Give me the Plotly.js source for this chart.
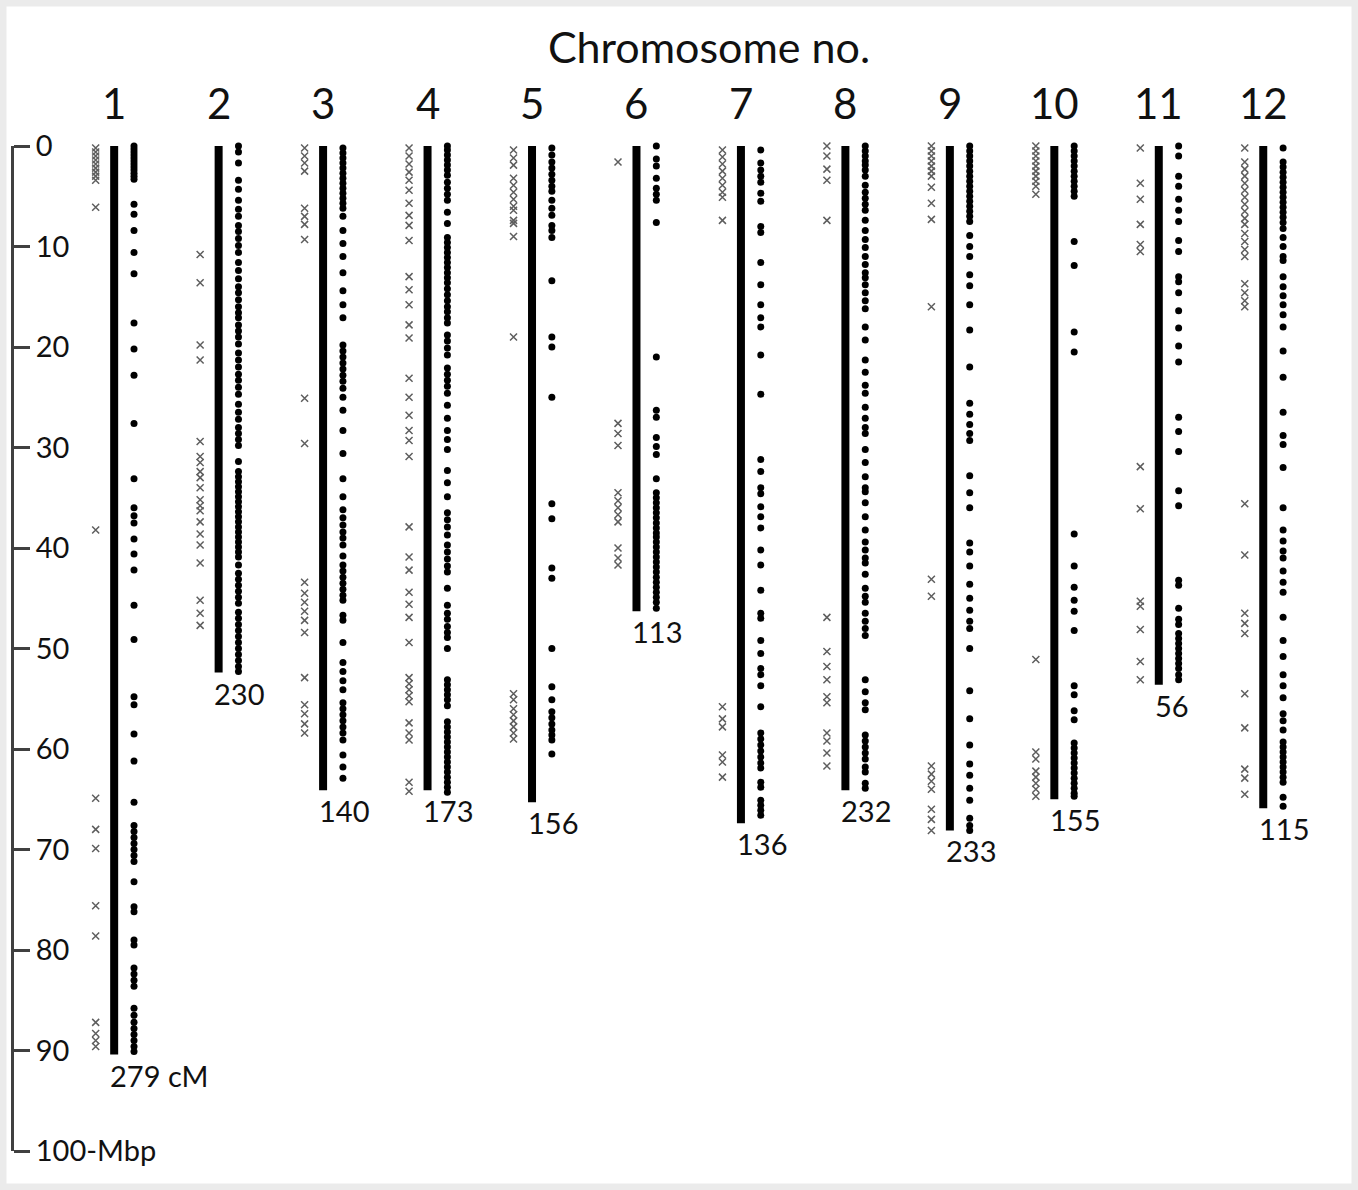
<!DOCTYPE html>
<html>
<head>
<meta charset="utf-8">
<script src="https://cdn.plot.ly/plotly-3.0.1.min.js"></script>
<style>html,body{margin:0;padding:0;background:#ffffff;}#chart{width:1358px;height:1190px;}</style>
</head>
<body>
<div id="chart"></div>
<script>
// ---------- DATA (Mbp positions) ----------
const chromosomes = ['1','2','3','4','5','6','7','8','9','10','11','12'];
const lengthMbp = [90.4, 52.4, 64.1, 64.1, 65.3, 46.3, 67.4, 64.1, 68.1, 65.0, 53.6, 65.9];
const cMLabels = ['279 cM','230','140','173','156','113','136','232','233','155','56','115'];
const axisTickVals = [0,10,20,30,40,50,60,70,80,90,100];
const axisTickText = ['0','10','20','30','40','50','60','70','80','90','100-Mbp'];

// markers on the right side of each chromosome (dots)
const dots1 = [0,0.3,0.6,0.9,1.2,1.5,1.8,2.1,2.4,2.7,3.0,3.3,5.8,6.8,8.4,10.6,12.7,17.6,20.2,22.8,27.6,33.1,36.0,36.8,37.5,39.1,40.6,42.2,45.7,49.1,54.8,55.6,58.5,61.2,65.3,67.6,68.2,68.8,69.4,70.0,70.6,71.2,73.2,75.7,76.2,79.0,79.5,81.8,82.4,83.0,83.6,85.8,86.5,87.2,87.8,88.4,89.0,89.6,90.1];
const dots2 = [0,0.6,1.7,3.4,4.3,5.4,6.3,7.0,7.9,8.5,9.2,9.9,10.6,11.6,12.4,13.2,14.0,14.6,15.3,16.0,16.6,17.1,17.8,18.4,19.0,19.7,20.6,21.3,22.0,22.7,23.3,24.0,24.7,25.7,26.5,27.2,28.0,28.6,29.2,29.8,31.4,32.4,32.9,33.4,33.9,34.4,34.9,35.4,35.9,36.4,36.9,37.4,37.9,38.4,38.9,39.4,39.9,40.4,40.9,41.7,42.5,43.1,43.7,44.3,44.9,45.5,46.4,47.0,47.6,48.2,48.8,49.4,50.0,50.6,51.2,51.8,52.3];
const dots3 = [0.2,0.7,1.2,1.7,2.2,2.7,3.2,3.7,4.2,4.7,5.2,5.7,6.2,7.0,8.4,9.7,11.0,12.6,14.4,15.8,17.1,19.8,20.4,21.0,21.6,22.2,22.8,23.4,24.1,25.0,26.3,28.3,30.6,33.1,34.9,36.2,37.0,37.7,38.4,39.0,39.7,40.8,41.7,42.3,42.9,43.5,44.1,44.7,45.2,46.7,47.2,49.4,51.4,52.3,53.2,54.1,55.4,56.0,56.6,57.2,57.8,58.4,59.1,60.6,61.8,62.9];
const dots4 = [0,0.4,0.9,1.4,1.9,2.4,2.9,3.6,4.2,4.8,5.4,6.6,7.7,9.1,9.6,10.1,10.6,11.1,11.6,12.1,12.6,13.1,13.6,14.2,14.8,15.4,16.0,16.5,17.1,17.6,18.8,19.4,20.1,20.8,22.1,22.7,23.3,23.9,24.6,25.8,27.1,28.3,29.2,30.2,32.3,33.5,34.9,36.5,37.2,37.9,38.7,39.7,40.4,41.1,41.8,42.4,44.0,45.7,46.5,47.1,47.8,48.4,48.9,50.0,53.1,53.6,54.1,54.6,55.1,55.7,57.3,57.8,58.3,58.8,59.3,59.8,60.3,60.8,61.3,61.8,62.3,62.8,63.3,63.8,64.3];
const dots5 = [0.2,0.9,1.6,2.2,2.8,3.4,4.0,4.5,5.4,6.2,6.9,7.9,8.4,9.1,13.4,19.0,20.0,25.0,35.6,37.1,42.0,43.0,50.0,53.8,55.1,56.3,56.9,57.5,58.1,58.6,59.1,60.5];
const dots6 = [0,1.3,2.0,3.2,4.2,4.8,5.4,7.6,21.0,26.3,27.0,29.0,29.9,30.7,33.1,34.5,35.0,35.5,36.0,36.5,37.0,37.5,38.0,38.5,38.9,39.4,39.9,40.4,40.9,41.4,41.9,42.4,42.9,43.4,43.9,44.4,44.9,45.4,46.0];
const dots7 = [0.4,1.7,2.4,3.0,3.6,4.7,5.5,8.0,8.6,11.6,13.8,15.8,17.1,18.0,20.8,24.7,31.2,32.4,34.0,34.6,35.9,36.9,38.0,40.2,41.7,44.2,46.5,47.0,49.2,50.5,52.0,52.6,53.7,55.8,58.4,59.0,59.6,60.2,60.8,61.4,61.9,63.3,63.8,65.1,65.6,66.1,66.6];
const dots8 = [0,0.5,1.0,1.5,1.9,2.4,3.0,3.9,4.6,5.2,5.8,6.4,7.4,8.4,9.3,10.1,11.0,11.8,12.6,13.1,13.8,14.6,15.4,16.2,18.0,19.3,21.3,22.5,23.8,24.6,26.0,27.1,28.0,28.6,30.2,31.5,32.9,34.0,34.4,35.5,36.9,38.2,39.4,40.2,41.0,41.5,42.6,44.0,44.8,45.4,46.5,47.3,48.0,48.7,53.1,54.3,55.4,56.1,58.6,59.2,59.8,60.4,61.0,61.8,62.3,63.4,63.9];
const dots9 = [0,0.5,1.0,1.5,2.0,2.5,3.0,3.5,4.0,4.5,5.0,5.5,6.0,6.5,7.0,7.5,8.9,10.0,11.0,12.8,13.9,15.8,18.3,22.0,25.6,26.7,27.7,28.6,29.3,32.8,34.5,36.0,39.5,40.4,41.8,43.6,45.0,46.2,47.3,48.0,50.0,54.2,57.0,59.6,61.5,62.6,63.9,65.1,66.9,67.6,68.1];
const dots10 = [0,0.5,1.0,1.5,2.0,2.5,3.0,3.5,4.0,4.5,5.0,9.5,11.9,18.5,20.5,38.6,41.8,43.9,45.2,46.3,48.2,53.7,54.6,56.2,57.1,59.4,59.9,60.4,60.9,61.4,61.9,62.4,62.9,63.4,63.9,64.4,64.7];
const dots11 = [0,1.0,3.0,4.0,5.3,6.4,7.5,9.4,10.5,13.0,13.5,14.6,16.4,18.1,19.9,21.5,27.0,28.4,30.4,34.3,35.8,43.2,43.7,46.0,47.1,47.6,48.5,49.0,49.5,50.0,50.5,51.0,51.5,52.0,52.6,53.1];
const dots12 = [0.2,1.6,2.1,2.6,3.1,3.6,4.1,4.6,5.1,5.6,6.1,6.6,7.1,7.6,8.2,9.1,10.0,11.0,11.4,13.0,14.0,14.9,15.8,16.8,18.0,20.4,23.0,26.5,28.8,29.7,32.0,36.0,38.2,39.3,40.3,41.0,42.3,43.4,44.4,46.9,49.2,50.8,52.6,53.7,54.9,56.5,57.2,58.1,59.3,59.8,60.3,60.8,61.3,61.8,62.3,62.8,63.3,64.8,65.7];

// markers on the left side of each chromosome (crosses)
const cross1 = [0.2,0.6,1.0,1.4,1.8,2.2,2.6,3.0,3.4,6.1,38.2,64.9,68.0,69.9,75.6,78.6,87.2,88.3,89.0,89.6];
const cross2 = [10.8,13.6,19.8,21.3,29.4,30.9,31.5,32.4,33.0,34.0,35.2,35.8,36.3,37.4,38.6,39.7,41.5,45.2,46.5,47.7];
const cross3 = [0.2,1.0,1.7,2.5,6.2,7.0,7.8,9.3,25.1,29.6,43.4,44.5,45.4,46.3,47.2,48.4,52.9,55.6,56.5,57.5,58.4];
const cross4 = [0.2,1.0,1.8,2.6,3.4,4.4,5.7,6.9,7.9,9.4,13.0,14.3,15.8,17.8,19.1,23.1,25.0,26.8,28.3,29.3,30.9,37.9,40.9,42.2,44.4,45.6,46.9,49.4,52.9,53.5,54.1,54.7,55.3,57.4,58.4,59.1,63.3,64.2];
const cross5 = [0.4,1.2,1.9,3.2,3.9,4.6,5.3,6.0,6.4,7.4,7.7,9.0,19.0,54.5,55.1,56.0,56.6,57.2,57.8,58.4,59.0];
const cross6 = [1.6,27.6,28.6,29.8,34.5,35.3,36.0,36.7,37.4,40.0,41.0,41.7];
const cross7 = [0.4,1.1,1.8,2.5,3.2,3.9,4.6,5.1,7.4,55.8,57.0,57.8,60.6,61.3,62.8];
const cross8 = [0,1.0,2.3,3.4,7.4,46.9,50.3,51.8,53.1,54.8,55.4,58.4,59.2,60.4,61.7];
const cross9 = [0,0.5,1.0,1.5,2.0,2.5,3.0,4.1,5.7,7.3,16.0,43.1,44.8,61.7,62.5,63.2,64.0,66.0,67.0,68.1];
const cross10 = [0,0.5,1.0,1.5,2.0,2.5,3.0,3.5,4.0,4.8,51.1,60.3,61.0,62.2,62.8,63.4,64.0,64.7];
const cross11 = [0.2,3.7,5.3,7.8,9.8,10.5,31.9,36.1,45.3,45.8,48.1,51.3,53.1];
const cross12 = [0.2,1.6,2.3,3.0,3.7,4.4,5.1,5.8,6.5,7.2,7.8,8.7,9.5,10.3,11.0,13.7,14.6,15.4,16.0,35.6,40.7,46.5,47.5,48.5,54.5,57.9,62.0,62.9,64.5];

const allDots = [dots1,dots2,dots3,dots4,dots5,dots6,dots7,dots8,dots9,dots10,dots11,dots12];
const allCross = [cross1,cross2,cross3,cross4,cross5,cross6,cross7,cross8,cross9,cross10,cross11,cross12];

// ---------- BUILD TRACES ----------
const crossOffset = -0.177, dotOffset = 0.19;
const barX = [], barY = [];
const dX = [], dY = [], cX = [], cY = [];
chromosomes.forEach((c, k) => {
  const i = k + 1;
  barX.push(i, i, null); barY.push(0, lengthMbp[k], null);
  allDots[k].forEach(v => { dX.push(i + dotOffset); dY.push(v); });
  allCross[k].forEach(v => { cX.push(i + crossOffset); cY.push(v); });
});

const traces = [
  {type:'scatter', mode:'lines', x:barX, y:barY, line:{color:'#000', width:8}, cliponaxis:false, hoverinfo:'skip', showlegend:false},
  {type:'scatter', mode:'markers', x:cX, y:cY, cliponaxis:false, marker:{symbol:'x-thin-open', size:7, color:'#5e5e5e', line:{width:1.5, color:'#5e5e5e'}}, showlegend:false},
  {type:'scatter', mode:'markers', x:dX, y:dY, cliponaxis:false, marker:{symbol:'circle', size:7, color:'#000'}, showlegend:false}
];

const W = 1358, H = 1190;
const FONT = 'Lato, "Open Sans", sans-serif';
const annotations = [];
chromosomes.forEach((c, k) => {
  const i = k + 1;
  annotations.push({x:i, y:1 - 103/H, xref:'x', yref:'paper', text:c, showarrow:false,
    xanchor:'center', yanchor:'middle', font:{family:FONT, size:42, color:'#111'}});
  annotations.push({x:i - 0.06, y:lengthMbp[k] + 0.1, xref:'x', yref:'y', text:cMLabels[k], showarrow:false,
    xanchor:'left', yanchor:'top', font:{family:FONT, size:29, color:'#111'}});
});

const layout = {
  width:W, height:H,
  margin:{l:0, r:0, t:0, b:0, pad:0},
  paper_bgcolor:'#ffffff', plot_bgcolor:'#ffffff',
  showlegend:false,
  title:{text:'Chromosome no.', x:709/W, y:1-48/H, xanchor:'center', yanchor:'middle', xref:'paper', yref:'paper',
    font:{family:FONT, size:43, color:'#111'}},
  xaxis:{domain:[0, 1], range:[-0.0929, 12.907], visible:false, fixedrange:true},
  yaxis:{domain:[(H-1151)/H, (H-146)/H], range:[100, 0], anchor:'free', position:12/W, side:'right',
    showline:true, linecolor:'#404040', linewidth:3, ticks:'outside', ticklen:16, tickwidth:3, tickcolor:'#404040',
    tickvals:axisTickVals, ticktext:axisTickText, showgrid:false, zeroline:false,
    tickfont:{family:FONT, size:29, color:'#111'}, fixedrange:true},
  shapes:[{type:'rect', xref:'paper', yref:'paper', x0:0, x1:1, y0:0, y1:1, layer:'below',
    line:{color:'#ebebeb', width:13}, fillcolor:'rgba(0,0,0,0)'}],
  annotations:annotations
};

Plotly.newPlot('chart', traces, layout, {displayModeBar:false, staticPlot:true});
</script>
</body>
</html>
